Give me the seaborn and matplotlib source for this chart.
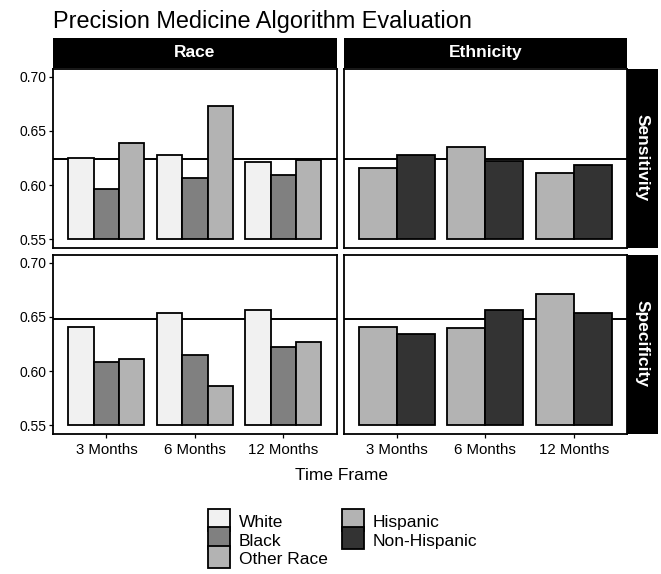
import matplotlib
matplotlib.use('Agg')
import matplotlib.pyplot as plt
from matplotlib.patches import Patch, Rectangle
from matplotlib.legend_handler import HandlerPatch
import seaborn as sns
import pandas as pd

# values
time_frames = ['3 Months', '6 Months', '12 Months']
race_groups = ['White', 'Black', 'Other Race']
eth_groups = ['Hispanic', 'Non-Hispanic']
metrics = ['Sensitivity', 'Specificity']
demos = ['Race', 'Ethnicity']

white_sens = [0.625, 0.628, 0.621]
black_sens = [0.596, 0.607, 0.609]
other_sens = [0.639, 0.673, 0.623]
hisp_sens = [0.616, 0.635, 0.611]
nonhisp_sens = [0.628, 0.622, 0.619]

white_spec = [0.641, 0.654, 0.656]
black_spec = [0.608, 0.615, 0.622]
other_spec = [0.611, 0.586, 0.627]
hisp_spec = [0.641, 0.640, 0.671]
nonhisp_spec = [0.634, 0.656, 0.654]

ref_lines = {'Sensitivity': 0.624, 'Specificity': 0.648}

colors = {'White': '#F1F1F1', 'Black': '#808080', 'Other Race': '#B3B3B3',
          'Hispanic': '#B3B3B3', 'Non-Hispanic': '#333333'}

series = [
    ('Sensitivity', 'Race', 'White', white_sens),
    ('Sensitivity', 'Race', 'Black', black_sens),
    ('Sensitivity', 'Race', 'Other Race', other_sens),
    ('Sensitivity', 'Ethnicity', 'Hispanic', hisp_sens),
    ('Sensitivity', 'Ethnicity', 'Non-Hispanic', nonhisp_sens),
    ('Specificity', 'Race', 'White', white_spec),
    ('Specificity', 'Race', 'Black', black_spec),
    ('Specificity', 'Race', 'Other Race', other_spec),
    ('Specificity', 'Ethnicity', 'Hispanic', hisp_spec),
    ('Specificity', 'Ethnicity', 'Non-Hispanic', nonhisp_spec),
]
rows = []
for metric, demo, group, vals in series:
    for t, v in zip(time_frames, vals):
        rows.append({'metric': metric, 'demo': demo, 'group': group, 'time': t, 'value': v})
df = pd.DataFrame(rows)

sns.set_style('white')
plt.rcParams['font.family'] = ['Liberation Sans', 'DejaVu Sans']
plt.rcParams['text.color'] = 'black'
plt.rcParams['axes.labelcolor'] = 'black'

W, H = 661, 574
fig = plt.figure(figsize=(W / 100, H / 100), dpi=100)

def fx(px):
    return px / W

def fy(py):
    return 1 - py / H

col_x = [(53.3, 336.5), (343.5, 627)]
row_y = [(68.5, 247.5), (254.5, 433.5)]
base = 0.55

for r, metric in enumerate(metrics):
    for c, demo in enumerate(demos):
        x0, x1 = col_x[c]
        y0, y1 = row_y[r]
        ax = fig.add_axes([fx(x0), fy(y1), fx(x1) - fx(x0), fy(y0) - fy(y1)])
        sub = df[(df.metric == metric) & (df.demo == demo)]
        groups = race_groups if demo == 'Race' else eth_groups
        ax.axhline(ref_lines[metric], color='black', lw=1.4, zorder=1)
        sns.barplot(data=sub, x='time', y='value', hue='group', order=time_frames,
                    hue_order=groups, palette=colors, width=0.86, edgecolor='black',
                    linewidth=1.3, errorbar=None, legend=False, ax=ax, zorder=2)
        # bars start at 0.55 like the original
        for p in ax.patches:
            h = p.get_height()
            p.set_y(base)
            p.set_height(h - base)
        ax.set_ylim(0.5425, 0.7075)
        ax.set_xlim(-0.6, 2.6)
        ax.set_xlabel('')
        ax.set_ylabel('')
        for s in ax.spines.values():
            s.set_visible(True)
            s.set_color('black')
            s.set_linewidth(1.3)
        ax.set_yticks([0.55, 0.60, 0.65, 0.70])
        ax.tick_params(length=3, width=0.9, color='black', labelcolor='black')
        ax.tick_params(axis='x', bottom=(r == 1), labelbottom=(r == 1),
                       labelsize=10.8, pad=4)
        ax.tick_params(axis='y', left=(c == 0), labelleft=(c == 0),
                       labelsize=10, pad=2)
        if c == 0:
            ax.set_yticklabels(['0.55', '0.60', '0.65', '0.70'])

        # column strips on top
        if r == 0:
            sax = fig.add_axes([fx(x0), fy(67.5), fx(x1) - fx(x0), fy(37.5) - fy(67.5)])
            sax.set_facecolor('black')
            sax.set_xticks([])
            sax.set_yticks([])
            for s in sax.spines.values():
                s.set_visible(False)
            sax.text(0.5, 0.5, demo, color='white', fontsize=12.5, fontweight='bold',
                     ha='center', va='center', transform=sax.transAxes)
        # row strips on the right
        if c == 1:
            sax = fig.add_axes([fx(627), fy(y1), fx(658) - fx(627), fy(y0) - fy(y1)])
            sax.set_facecolor('black')
            sax.set_xticks([])
            sax.set_yticks([])
            for s in sax.spines.values():
                s.set_visible(False)
            sax.text(0.5, 0.5, metric, color='white', fontsize=12.5, fontweight='bold',
                     ha='center', va='center', rotation=-90, transform=sax.transAxes)

fig.text(fx(53.3), fy(28.3), 'Precision Medicine Algorithm Evaluation',
         fontsize=16.9, ha='left', va='baseline')
fig.text(fx(341), fy(475), 'Time Frame', fontsize=12.5, ha='center', va='center')


def full_key(legend, orig_handle, xdescent, ydescent, width, height, fontsize):
    # key square fills the whole row so the keys touch
    return Rectangle(xy=(-xdescent, -ydescent), width=width, height=height + ydescent)


handles = [Patch(facecolor=colors[g], edgecolor='black', linewidth=1.3)
           for g in race_groups + eth_groups]
fig.legend(handles, race_groups + eth_groups, ncol=2, loc='upper left',
           bbox_to_anchor=(fx(208), fy(512)), frameon=False, borderpad=0,
           borderaxespad=0, labelspacing=0, handlelength=1.27, handleheight=1.27,
           handletextpad=0.52, columnspacing=0.8, fontsize=12.5,
           handler_map={Patch: HandlerPatch(patch_func=full_key)})

fig.savefig('out.png', dpi=100)
